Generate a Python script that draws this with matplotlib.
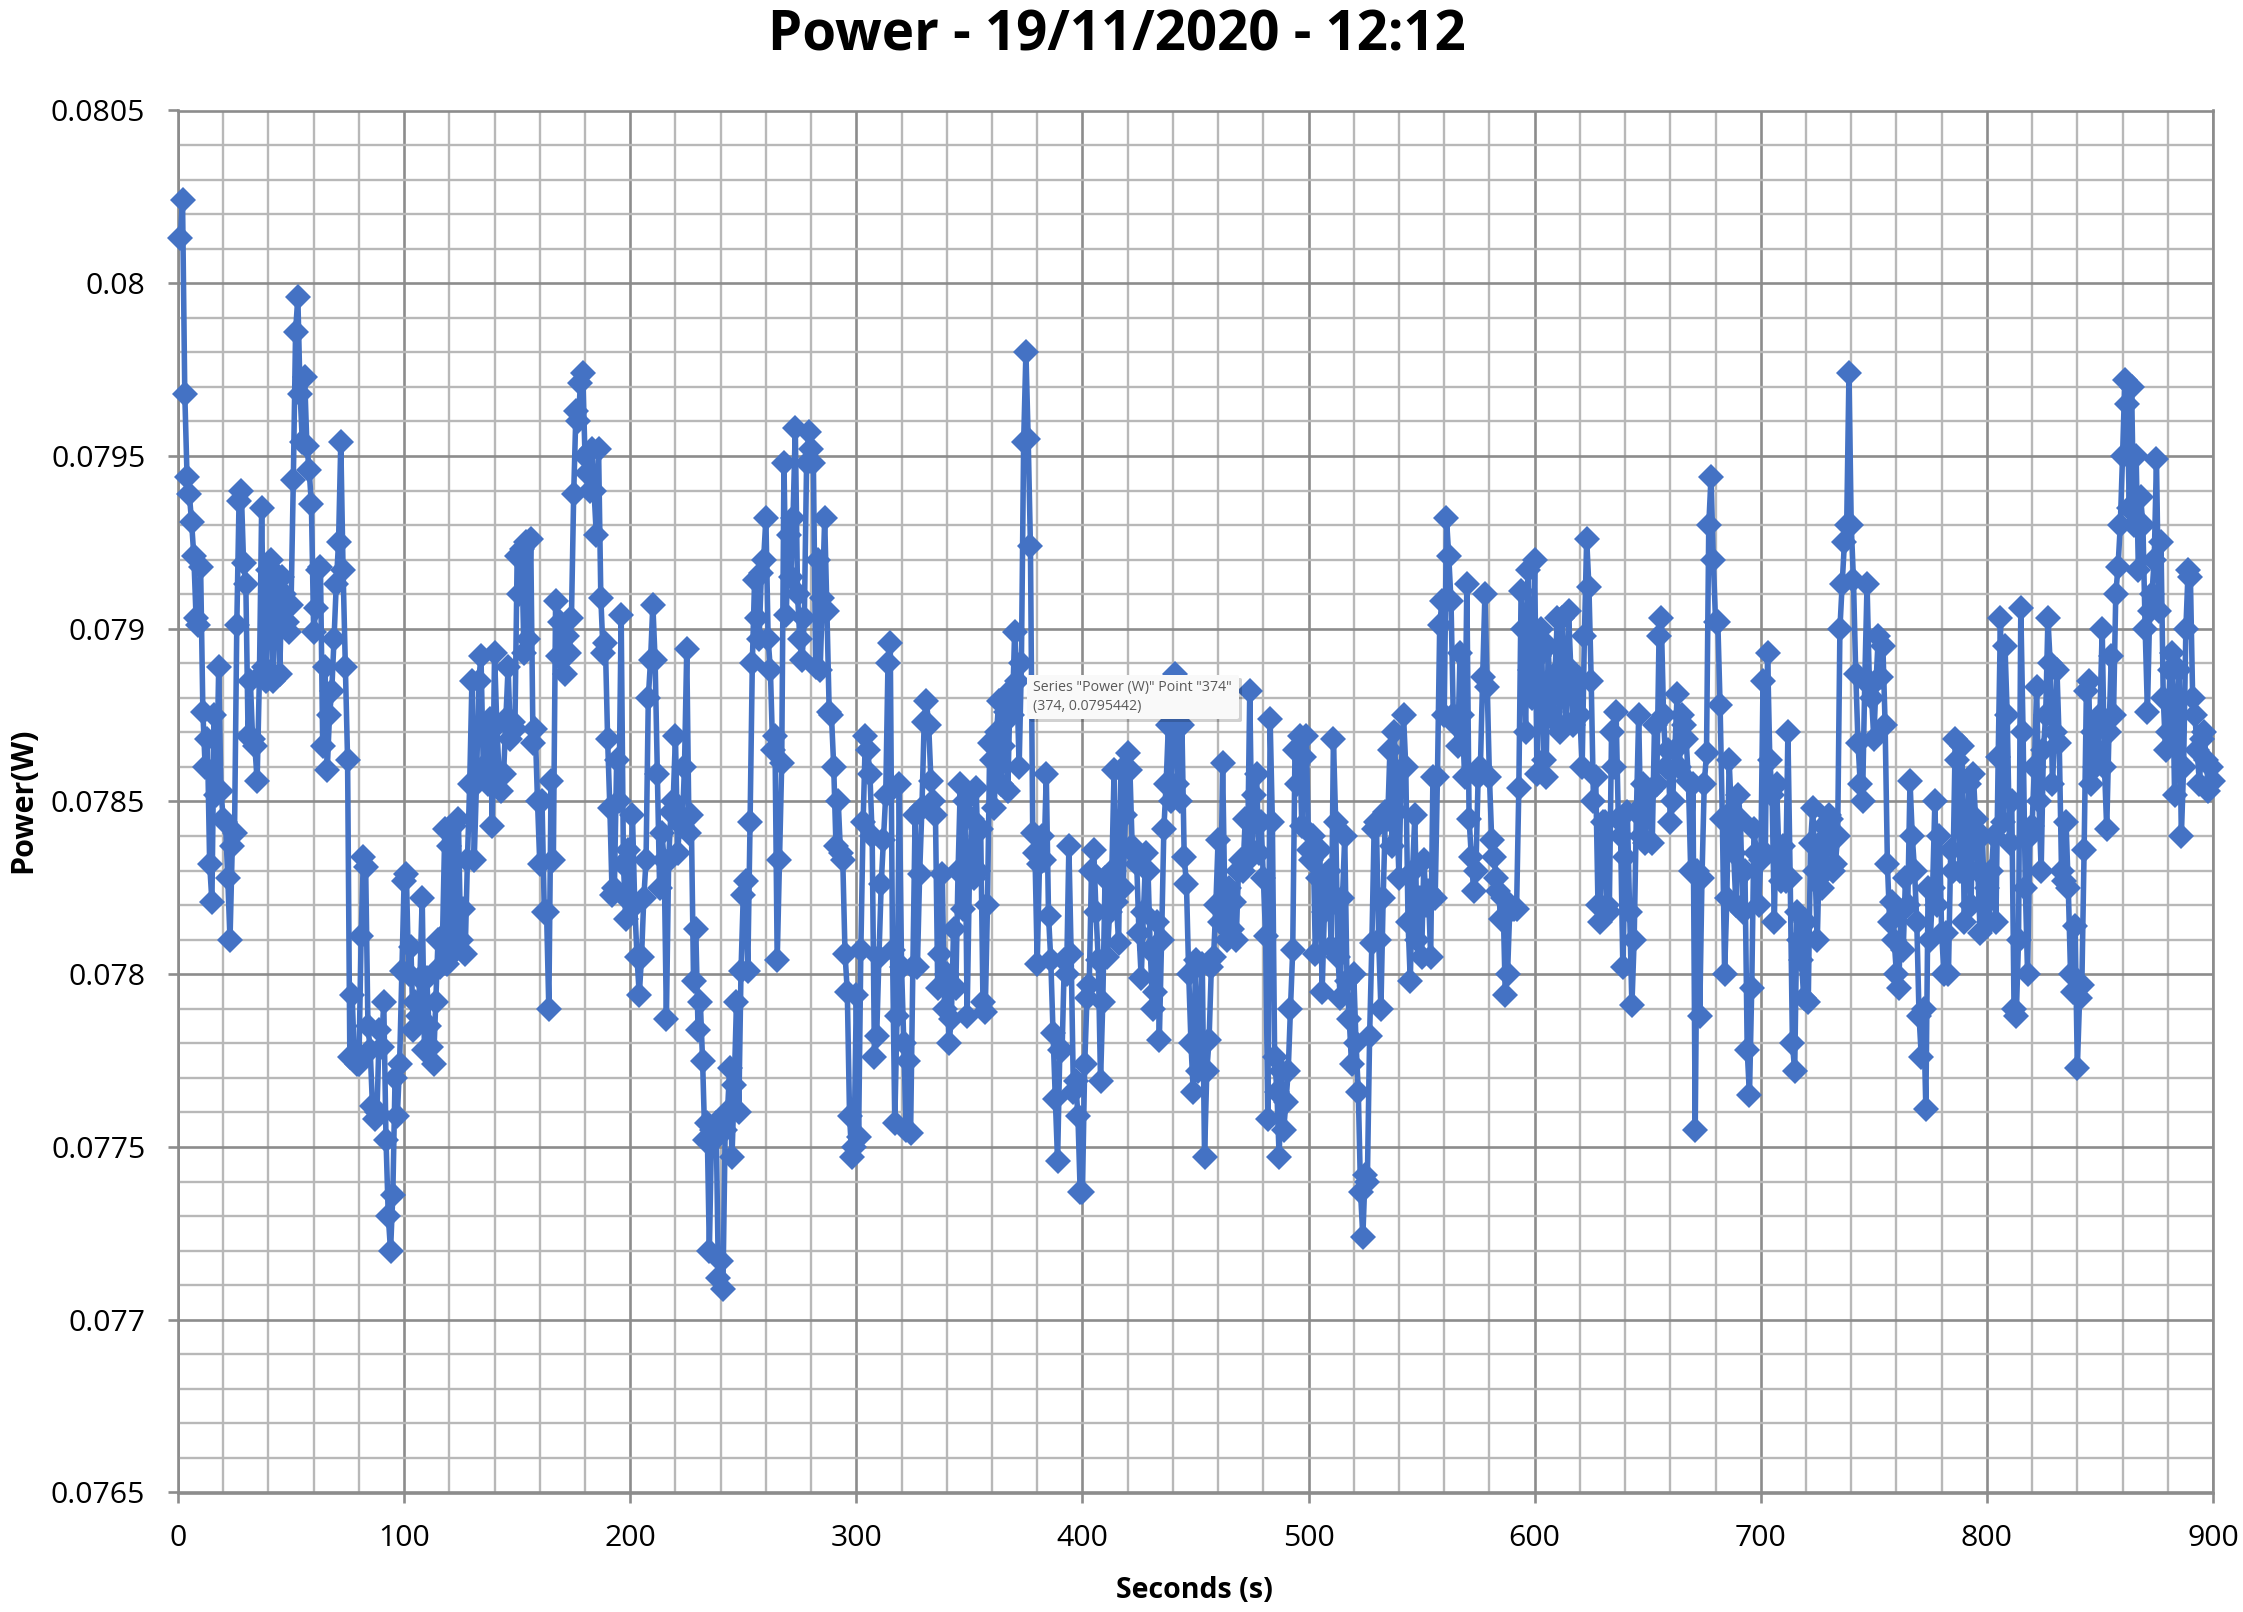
import numpy as np
import matplotlib
matplotlib.use('Agg')
import matplotlib.pyplot as plt
from matplotlib.patches import FancyBboxPatch
from matplotlib.ticker import MultipleLocator, FuncFormatter

# Values, in mW, one per second starting at t = 1 s
power_001 = [80.13, 80.24, 79.68, 79.44, 79.39, 79.31, 79.21, 79.03, 79.01, 79.18,
             78.76, 78.60, 78.68, 78.32, 78.21, 78.75, 78.52, 78.89, 78.53, 78.45,
             78.44, 78.28, 78.10, 78.37, 78.41, 79.01, 79.37, 79.40, 79.19, 79.13,
             78.69, 78.85, 78.68, 78.66, 78.56, 78.86, 79.35, 78.89, 78.85, 79.17,
             79.20, 78.85, 79.16, 79.14, 78.87, 79.15, 79.10, 79.02, 78.99, 79.07,
             79.43, 79.86, 79.96, 79.68, 79.54, 79.73, 79.53, 79.46, 79.36, 78.99,
             79.06, 79.17, 79.18, 78.66, 78.89, 78.59, 78.75, 78.82, 78.97, 79.13,
             79.25, 79.54, 79.17, 78.89, 78.62, 77.76, 77.94, 77.76, 77.74, 77.74,
             78.11, 78.34, 78.31, 77.85, 77.78, 77.62, 77.58, 77.60, 77.84, 77.79,
             77.92, 77.52, 77.30, 77.20, 77.36, 77.70, 77.59, 77.74, 78.01, 78.27]
power_101 = [78.29, 78.00, 78.08, 77.84, 77.92, 77.88, 77.99, 78.22, 77.78, 77.99,
             77.85, 77.79, 77.74, 77.92, 78.10, 78.02, 78.11, 78.42, 78.03, 78.37,
             78.09, 78.43, 78.07, 78.45, 78.10, 78.19, 78.06, 78.33, 78.55, 78.85,
             78.33, 78.55, 78.85, 78.92, 78.60, 78.72, 78.55, 78.74, 78.43, 78.93,
             78.72, 78.58, 78.53, 78.58, 78.74, 78.89, 78.68, 78.73, 78.71, 79.21,
             79.10, 79.23, 78.93, 79.25, 78.97, 79.26, 78.67, 78.71, 78.50, 78.32,
             78.50, 78.18, 78.18, 77.90, 78.56, 78.33, 79.08, 78.92, 79.02, 78.92,
             78.87, 78.98, 78.93, 79.03, 79.39, 79.63, 79.60, 79.71, 79.74, 79.50,
             79.45, 79.40, 79.52, 79.40, 79.27, 79.52, 79.09, 78.93, 78.96, 78.68,
             78.48, 78.23, 78.25, 78.62, 78.50, 79.04, 78.32, 78.16, 78.36, 78.21]
power_201 = [78.46, 78.20, 78.05, 77.94, 78.05, 78.22, 78.33, 78.80, 78.91, 79.07,
             78.91, 78.58, 78.25, 78.41, 78.33, 77.87, 78.33, 78.47, 78.50, 78.69,
             78.35, 78.46, 78.43, 78.60, 78.94, 78.41, 78.46, 77.98, 78.13, 77.84,
             77.92, 77.75, 77.52, 77.57, 77.20, 77.55, 77.52, 77.57, 77.12, 77.17,
             77.09, 77.55, 77.60, 77.73, 77.47, 77.68, 77.92, 77.60, 78.01, 78.23,
             78.27, 78.01, 78.44, 78.90, 79.14, 79.03, 78.97, 79.16, 79.20, 79.32,
             78.97, 78.88, 78.65, 78.69, 78.04, 78.33, 78.61, 79.48, 79.04, 79.27,
             79.15, 79.32, 79.58, 79.10, 78.97, 78.91, 79.03, 79.48, 79.57, 79.52,
             79.48, 78.89, 79.20, 78.88, 79.09, 79.32, 79.05, 78.76, 78.75, 78.60,
             78.37, 78.50, 78.35, 78.33, 78.06, 77.95, 77.59, 77.47, 77.50, 77.94]
power_301 = [77.53, 78.07, 78.44, 78.69, 78.65, 78.58, 78.40, 77.76, 77.82, 78.05,
             78.26, 78.39, 78.52, 78.90, 78.96, 78.07, 77.57, 77.88, 78.55, 78.02,
             77.80, 77.55, 77.75, 77.54, 78.02, 78.46, 78.02, 78.29, 78.48, 78.73,
             78.79, 78.72, 78.56, 78.50, 78.46, 77.96, 78.06, 78.29, 77.90, 78.00,
             77.80, 77.87, 78.13, 77.96, 78.30, 78.55, 78.19, 78.50, 77.88, 78.28,
             78.45, 78.28, 78.54, 78.30, 78.42, 77.92, 77.89, 78.20, 78.67, 78.62,
             78.48, 78.70, 78.79, 78.55, 78.66, 78.76, 78.53, 78.82, 78.75, 78.99,
             78.85, 78.60, 78.90, 79.54, 79.80, 79.55, 79.24, 78.41, 78.35, 78.03,
             78.32, 78.40, 78.33, 78.58, 78.17, 78.04, 77.83, 77.64, 77.46, 77.78,
             77.78, 78.04, 78.00, 78.37, 78.06, 77.66, 77.69, 77.59, 77.37, 77.37]
power_401 = [77.74, 77.93, 77.97, 78.30, 78.36, 78.18, 78.04, 77.69, 77.92, 78.28,
             78.05, 78.18, 78.30, 78.59, 78.21, 78.09, 78.59, 78.25, 78.46, 78.64,
             78.59, 78.37, 78.35, 78.32, 78.12, 77.99, 78.18, 78.35, 78.30, 78.07,
             77.90, 77.95, 78.15, 77.81, 78.10, 78.42, 78.55, 78.72, 78.50, 78.75,
             78.87, 78.55, 78.50, 78.72, 78.34, 78.26, 78.00, 77.80, 77.66, 78.04,
             77.72, 77.81, 78.03, 77.47, 77.72, 77.81, 78.02, 78.05, 78.20, 78.39,
             78.15, 78.61, 78.20, 78.10, 78.25, 78.13, 78.21, 78.10, 78.30, 78.33,
             78.30, 78.45, 78.33, 78.82, 78.36, 78.52, 78.58, 78.35, 78.44, 78.28,
             78.11, 77.58, 78.74, 78.44, 77.76, 77.66, 77.47, 77.72, 77.55, 77.63,
             77.72, 77.90, 78.07, 78.65, 78.55, 78.69, 78.43, 78.63, 78.69, 78.36]
power_501 = [78.33, 78.40, 78.06, 78.28, 78.36, 77.95, 78.18, 78.24, 78.30, 78.08,
             78.68, 78.44, 78.05, 77.93, 78.22, 78.40, 77.98, 77.87, 77.74, 78.00,
             77.80, 77.66, 77.37, 77.24, 77.42, 77.40, 77.82, 78.09, 78.42, 78.44,
             78.10, 77.90, 78.22, 78.47, 78.45, 78.65, 78.37, 78.70, 78.47, 78.28,
             78.59, 78.75, 78.60, 78.15, 77.98, 78.30, 78.46, 78.10, 78.22, 78.05,
             78.33, 78.20, 78.24, 78.05, 78.57, 78.22, 78.57, 79.01, 79.08, 78.75,
             79.32, 79.21, 79.08, 78.75, 78.72, 78.66, 78.93, 78.75, 78.57, 79.13,
             78.45, 78.34, 78.24, 78.30, 78.57, 78.60, 78.86, 79.10, 78.83, 78.57,
             78.39, 78.34, 78.28, 78.24, 78.16, 78.22, 77.94, 78.00, 78.19, 78.19,
             78.19, 78.19, 78.54, 79.11, 79.00, 78.70, 79.17, 78.88, 78.80, 79.20]
power_601 = [78.58, 78.92, 79.00, 78.62, 78.57, 78.95, 78.76, 78.74, 78.87, 79.03,
             78.70, 79.03, 78.87, 78.72, 79.05, 78.88, 78.72, 78.86, 78.85, 78.75,
             78.60, 78.98, 79.26, 79.12, 78.85, 78.50, 78.57, 78.20, 78.15, 78.44,
             78.44, 78.20, 78.18, 78.70, 78.60, 78.76, 78.45, 78.40, 78.02, 78.34,
             78.47, 78.18, 77.91, 78.10, 78.47, 78.75, 78.40, 78.55, 78.38, 78.53,
             78.53, 78.38, 78.72, 78.55, 78.98, 79.03, 78.75, 78.60, 78.65, 78.44,
             78.50, 78.65, 78.81, 78.60, 78.75, 78.72, 78.68, 78.56, 78.30, 78.55,
             77.55, 78.30, 77.88, 78.28, 78.55, 78.64, 79.30, 79.44, 79.20, 79.02,
             79.02, 78.78, 78.45, 78.00, 78.22, 78.62, 78.47, 78.35, 78.20, 78.52,
             78.45, 78.18, 78.30, 77.78, 77.65, 77.96, 78.42, 78.35, 78.20, 78.33]
power_701 = [78.85, 78.35, 78.93, 78.62, 78.52, 78.15, 78.55, 78.35, 78.27, 78.37,
             78.27, 78.70, 78.28, 77.80, 77.72, 78.18, 78.10, 78.04, 77.93, 78.15,
             77.92, 78.38, 78.48, 78.30, 78.10, 78.38, 78.25, 78.43, 78.30, 78.46,
             78.45, 78.30, 78.32, 78.40, 79.00, 79.13, 79.25, 79.30, 79.74, 79.30,
             79.14, 78.87, 78.67, 78.55, 78.50, 78.85, 79.13, 78.85, 78.80, 78.68,
             78.85, 78.98, 78.86, 78.95, 78.72, 78.32, 78.15, 78.21, 78.10, 78.00,
             77.96, 78.18, 78.07, 78.28, 78.20, 78.56, 78.40, 78.30, 78.15, 77.88,
             77.76, 77.90, 77.61, 78.25, 78.10, 78.25, 78.50, 78.20, 78.40, 78.12,
             78.00, 78.12, 78.00, 78.36, 78.30, 78.68, 78.62, 78.30, 78.66, 78.15,
             78.36, 78.55, 78.20, 78.58, 78.45, 78.30, 78.12, 78.40, 78.20, 78.25]
power_801 = [78.15, 78.30, 78.40, 78.15, 78.63, 79.03, 78.44, 78.95, 78.75, 78.38,
             78.50, 77.90, 77.88, 78.10, 79.06, 78.70, 78.25, 78.00, 78.40, 78.43,
             78.60, 78.83, 78.50, 78.30, 78.65, 78.75, 79.03, 78.90, 78.55, 78.70,
             78.88, 78.67, 78.30, 78.27, 78.44, 78.25, 78.00, 77.95, 78.14, 77.73,
             77.93, 77.97, 78.36, 78.82, 78.85, 78.55, 78.70, 78.60, 78.65, 78.75,
             79.00, 78.60, 78.42, 78.70, 78.92, 78.75, 79.10, 79.18, 79.30, 79.50,
             79.72, 79.65, 79.35, 79.70, 79.30, 79.50, 79.17, 79.38, 79.30, 79.00,
             78.76, 79.05, 79.10, 79.20, 79.49, 79.05, 79.25, 78.80, 78.65, 78.70,
             78.88, 78.93, 78.52, 78.75, 78.88, 78.40, 78.60, 79.00, 79.17, 79.15,
             78.80, 78.75, 78.65, 78.55, 78.68, 78.70, 78.62, 78.53, 78.60, 78.56]

title_text = 'Power - 19/11/2020 - 12:12'
x_label = 'Seconds (s)'
y_label = 'Power(W)'
tooltip_lines = 'Series "Power (W)" Point "374"\n(374, 0.0795442)'

power = np.array(power_001 + power_101 + power_201 + power_301 + power_401
                 + power_501 + power_601 + power_701 + power_801) / 1000
seconds = np.arange(1, len(power) + 1)

W, H = 2243, 1612
plt.rcParams['font.family'] = ['Open Sans', 'DejaVu Sans']

fig = plt.figure(figsize=(W / 100, H / 100), dpi=100)
ax = fig.add_axes([178 / W, 1 - 1492.5 / H, (2213 - 178) / W, (1492.5 - 110.5) / H])

ax.plot(seconds, power, color='#4472C4', lw=4.0, marker='D', ms=13,
        mec='#4472C4', mew=0, clip_on=False, zorder=3)

ax.set_xlim(0, 900)
ax.set_ylim(0.0765, 0.0805)
ax.xaxis.set_major_locator(MultipleLocator(100))
ax.xaxis.set_minor_locator(MultipleLocator(20))
ax.yaxis.set_major_locator(MultipleLocator(0.0005))
ax.yaxis.set_minor_locator(MultipleLocator(0.0001))
ax.yaxis.set_major_formatter(FuncFormatter(lambda v, p: f'{round(v, 4):g}'))

ax.set_axisbelow(True)
ax.grid(which='minor', color='#b8b8b8', lw=1.7)
ax.grid(which='major', color='#8c8c8c', lw=1.9)
ax.tick_params(which='minor', length=0)
ax.tick_params(axis='x', which='major', length=7.5, width=1.9, color='#8c8c8c', labelsize=21.8,
               labelcolor='black', pad=15)
ax.tick_params(axis='y', which='major', length=7.5, width=1.9, color='#8c8c8c', labelsize=21.8,
               labelcolor='black', pad=16)
for s in ax.spines.values():
    s.set_color('#8c8c8c')
    s.set_linewidth(1.9)

fig.text(1117 / W, 1 - 36 / H, title_text, ha='center', va='center', fontsize=39.3, fontweight='bold')
fig.text(1194 / W, 1 - 1590 / H, x_label, ha='center', va='center', fontsize=20.5, fontweight='bold')
fig.text(23 / W, 1 - 800 / H, y_label, ha='center', va='center', rotation=90, fontsize=22, fontweight='bold')

# hover tooltip left in the screenshot
px, py = 1027, 675
bw, bh = 212, 44
for off, col, a in [(3, '#000000', 0.18), (0, '#f9f9f9', 1.0)]:
    box = FancyBboxPatch(((px + off) / W, 1 - (py + bh + off) / H), bw / W, bh / H,
                         boxstyle='round,pad=0,rounding_size=0.001', transform=fig.transFigure,
                         fc=col, ec='none', alpha=a, zorder=10)
    fig.add_artist(box)
fig.text((px + 6) / W, 1 - (py + bh / 2) / H, tooltip_lines, ha='left', va='center',
         fontsize=10.2, color='#595959', linespacing=1.35, zorder=11)

fig.savefig('out.png', dpi=100)
